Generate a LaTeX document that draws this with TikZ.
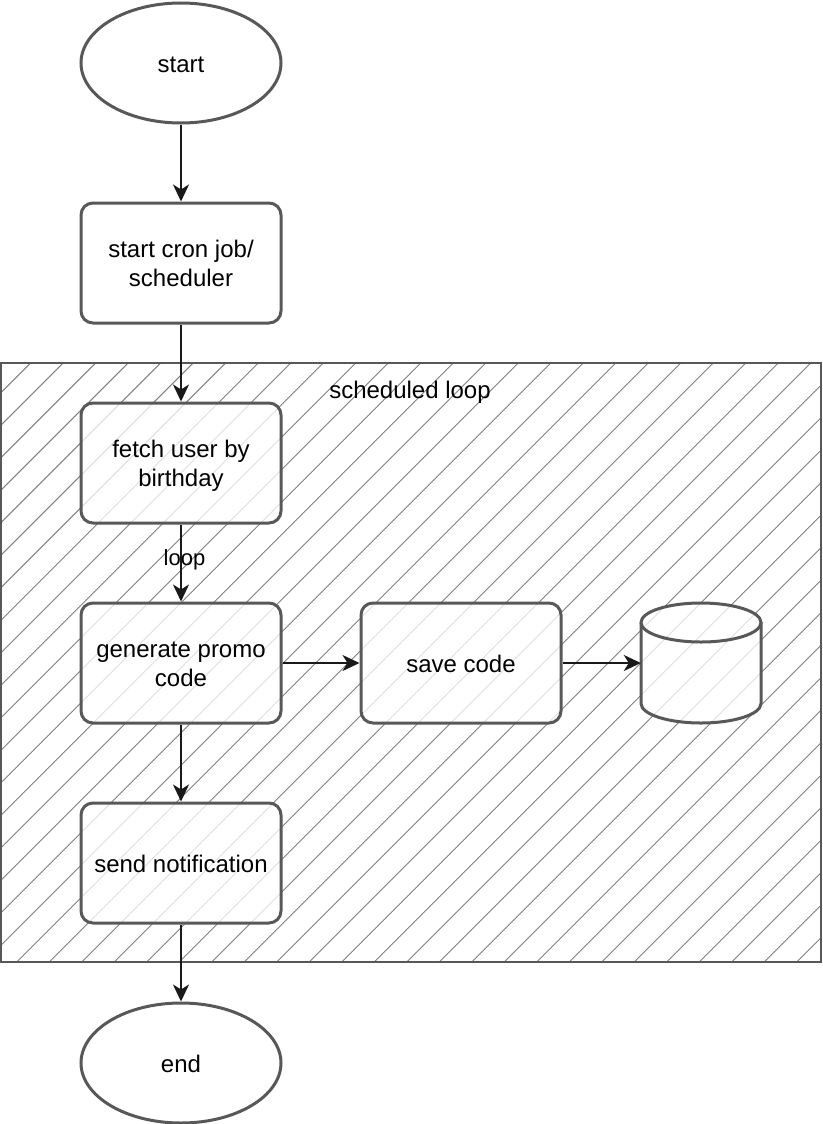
\documentclass[tikz,border=0pt]{standalone}
\usepackage{fontspec}
\setmainfont{Liberation Sans}
\usetikzlibrary{arrows.meta,shapes.geometric}
\definecolor{nodeline}{RGB}{88,88,88}
\definecolor{hatchcol}{RGB}{128,128,128}
\newcommand\btext[1]{\raisebox{-3.5pt}[\height][\depth]{\begin{tabular}{@{}c@{}}#1\end{tabular}}}
\begin{document}
\begin{tikzpicture}[x=1pt,y=-1pt,
  box/.style={draw=nodeline, line width=3pt, rounded corners=12pt, fill=white, fill opacity=0.75, text opacity=1,
    minimum width=200pt, minimum height=120pt, inner sep=0pt,
    font=\fontsize{24pt}{28.8pt}\selectfont},
  term/.style={box, ellipse, sharp corners},
  arr/.style={draw=black!90, line width=2pt, -{Stealth[length=17pt,width=16pt,inset=5pt]}},
  lbl/.style={font=\fontsize{24pt}{28.8pt}\selectfont, inner sep=0pt},
  edgelbl/.style={font=\fontsize{22pt}{26pt}\selectfont, inner sep=0pt}]
\useasboundingbox (0,0) rectangle (822,1124);
\fill[white] (0,0) rectangle (822,1124);
% container hatch
\begin{scope}
  \clip (1,363) rectangle (821,962);
  \foreach \k in {-20,...,26} {
    \draw[hatchcol, line width=1pt] ({978.7+32.5*\k-975},975) -- ({978.7+32.5*\k-350},350);
  }
\end{scope}
\node (loopbox) [draw=nodeline, line width=2pt, minimum width=820pt, minimum height=599pt, inner sep=0pt] at (411,662.5) {};
\node (looplabel) [lbl] at (410,392) {scheduled loop};
% nodes
\node (start) [term] at (181,63) {\btext{start}};
\node (cron) [box] at (181,263) {\btext{start cron job/\\scheduler}};
\node (fetch) [box] at (181,463) {\btext{fetch user by\\birthday}};
\node (gen) [box] at (181,663) {\btext{generate promo\\code}};
\node (save) [box] at (461,663) {\btext{save code}};
\node (send) [box] at (181,863) {\btext{send notification}};
\node (end) [term] at (181,1063) {\btext{end}};
% database cylinder
\node (db) [minimum width=120pt, minimum height=120pt, inner sep=0pt] at (701,663) {};
\fill[white, fill opacity=0.75] (641,622.5) -- (641,703.5)
  .. controls (641,714.3) and (667.9,723) .. (701,723)
  .. controls (734.1,723) and (761,714.3) .. (761,703.5)
  -- (761,622.5)
  .. controls (761,611.7) and (734.1,603) .. (701,603)
  .. controls (667.9,603) and (641,611.7) .. (641,622.5) -- cycle;
\draw[nodeline, line width=3pt, line join=round] (641,622.5) -- (641,703.5)
  .. controls (641,714.3) and (667.9,723) .. (701,723)
  .. controls (734.1,723) and (761,714.3) .. (761,703.5)
  -- (761,622.5);
\draw[nodeline, line width=3pt] (701,622.5) ellipse [x radius=60, y radius=19.5];
% connectors
\draw[arr] (start) -- (cron);
\draw[arr] (cron) -- (fetch);
\draw[arr] (fetch) -- (gen);
\node (looplbl) [edgelbl] at (184.5,560) {loop};
\draw[arr] (gen) -- (save);
\draw[arr] (save) -- (db.west);
\draw[arr] (gen) -- (send);
\draw[arr] (send) -- (end);
\end{tikzpicture}
\end{document}
